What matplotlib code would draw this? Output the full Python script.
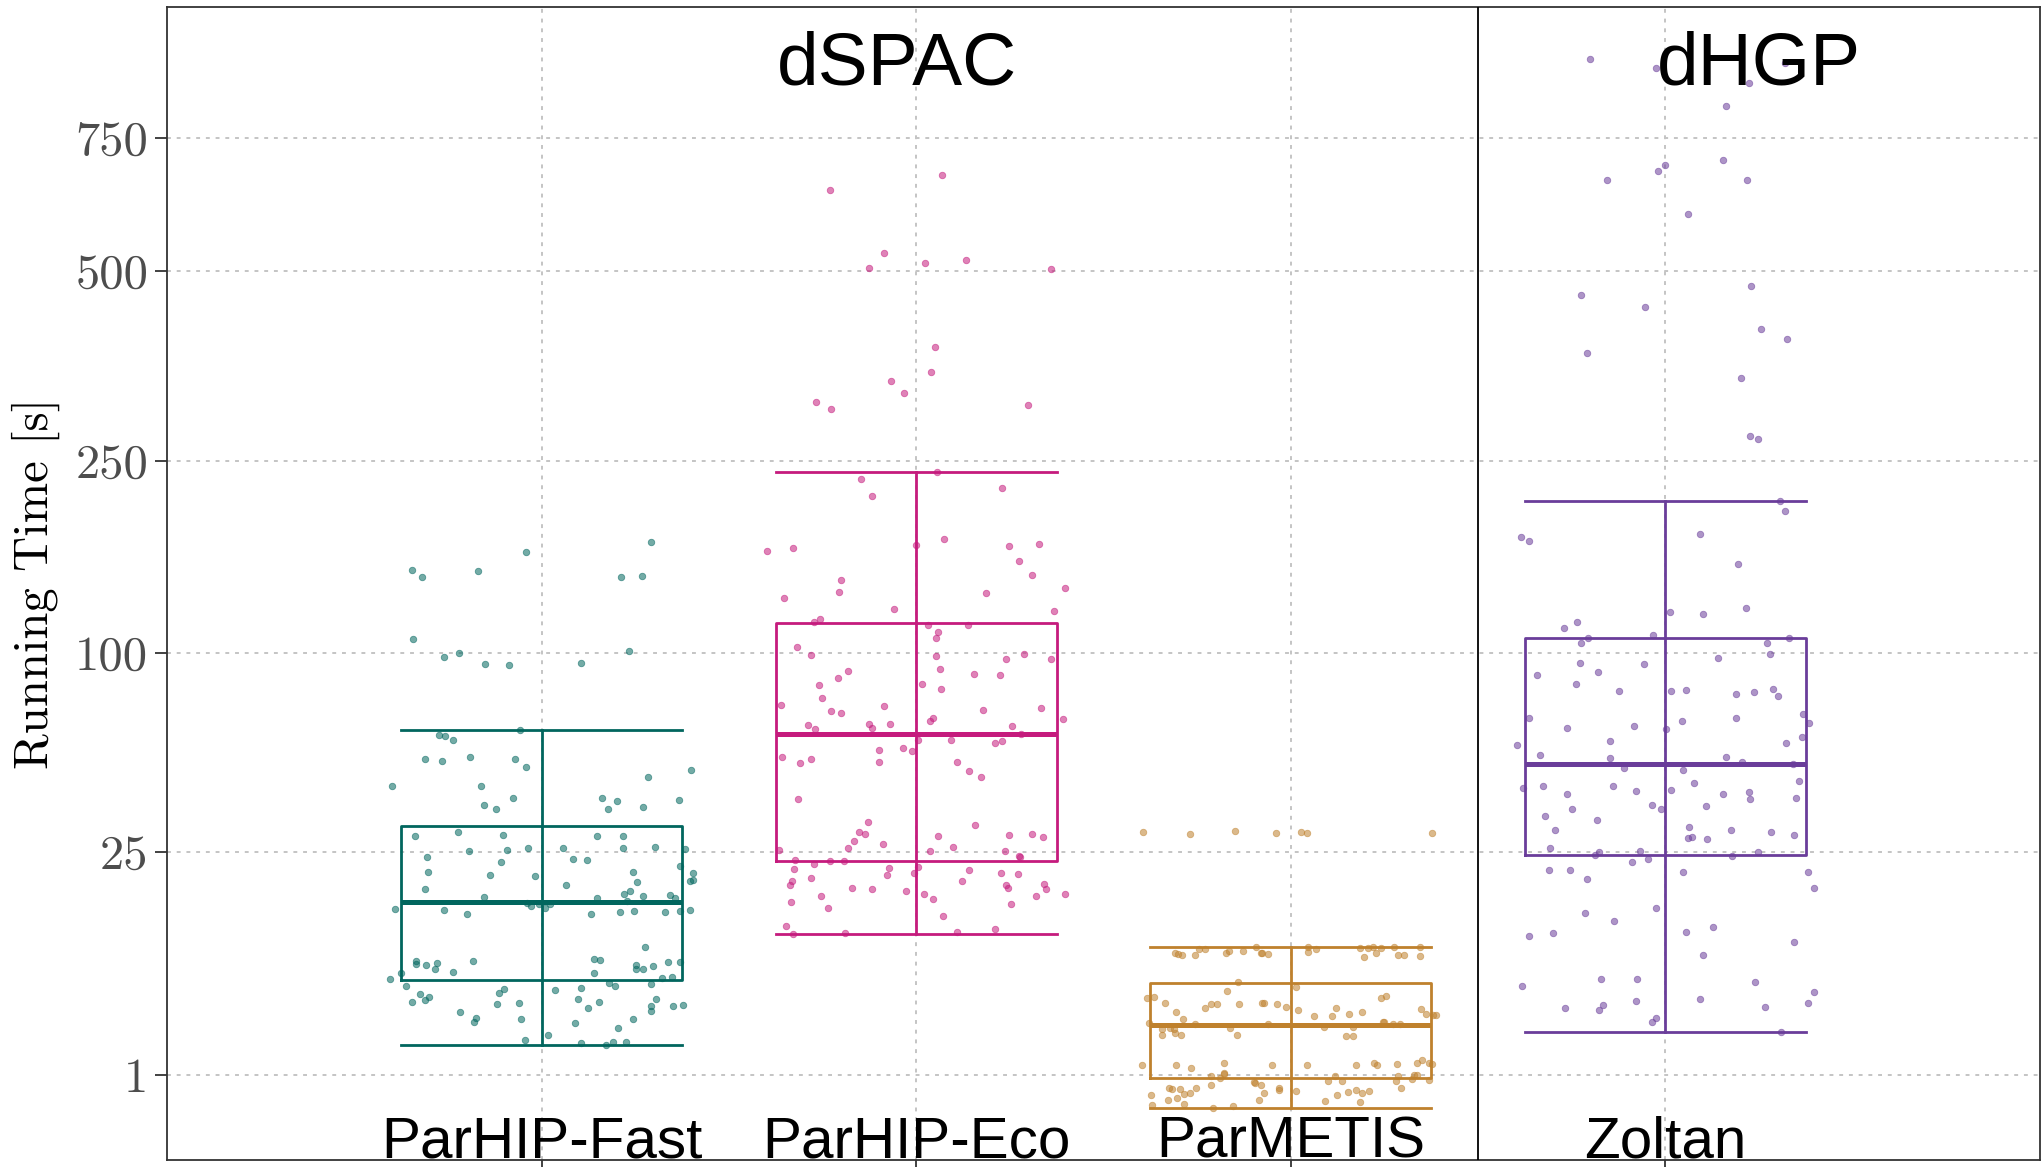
import numpy as np
import matplotlib

matplotlib.use("Agg")
import matplotlib.pyplot as plt
from matplotlib import cbook
from matplotlib.transforms import blended_transform_factory

# algorithms, their x position and colour
ALGOS = ["ParHIP-Fast", "ParHIP-Eco", "ParMETIS", "Zoltan"]
POSITIONS = [1, 2, 3, 4]
COLORS = ["#01665e", "#c51b7d", "#bf812d", "#6a3d9a"]
GROUPS = [("dSPAC", 1.95), ("dHGP", 4.25)]

Y_TICKS = [1, 25, 100, 250, 500, 750]

# running times [s] per instance, with the horizontal jitter of each point
fast_time = [
    153.6, 148.9, 153.1, 167.3, 175.6, 148.9, 149.4, 107.9, 97.7, 100.0, 94.2, 93.3, 94.6, 101.1,
    63.1, 60.7, 60.5, 58.9, 51.6, 51.2, 52.4, 51.6, 48.9, 42.7, 42.6, 37.0, 35.7, 38.9, 47.9, 45.4,
    38.9, 35.9, 38.1, 36.3, 38.4,
    28.6, 29.8, 29.0, 23.9, 25.3, 25.4, 26.0, 22.8, 20.9, 20.3, 20.0, 17.7, 16.3, 25.8, 23.5, 23.2,
    28.7, 28.6, 25.9, 26.2, 25.6, 22.1, 20.6, 20.8, 18.9, 18.4, 19.1, 19.3, 16.9, 17.3, 16.2, 16.4,
    16.6, 16.2, 15.7,
    14.4, 14.3, 13.6, 15.4, 14.9, 15.1, 14.5, 15.1, 13.6, 14.0, 14.1, 13.9, 14.1, 14.2,
    7.80, 7.46, 7.39, 7.63, 7.03, 6.75, 7.76, 6.62, 9.38, 8.05, 7.91, 6.66, 7.39, 7.03, 7.04, 7.27,
    7.69, 7.71, 6.32, 6.18,
    6.12, 5.50, 4.94, 4.33, 4.45, 4.72, 3.65, 3.12, 3.33, 4.97, 5.30, 4.22, 4.24, 3.26, 2.19, 2.43,
    5.18, 5.33, 4.57, 3.91, 4.36, 5.74, 5.53, 3.05, 2.10, 1.99, 2.13, 2.11, 2.76, 3.26, 5.66, 4.57,
    4.08, 3.72, 4.07, 4.15,
]
fast_jitter = [
    -0.347, -0.319, -0.171, -0.042, 0.292, 0.211, 0.269, -0.342, -0.260, -0.220, -0.150, -0.087, 0.106, 0.233,
    -0.058, -0.273, -0.257, -0.236, -0.312, -0.267, -0.192, -0.071, -0.042, -0.400, -0.161, -0.154, -0.123,
    -0.076, 0.398, 0.284, 0.162, 0.178, 0.202, 0.271, 0.368,
    -0.338, -0.224, -0.102, -0.306, -0.194, -0.092, -0.037, -0.109, -0.304, -0.138, -0.017, -0.310, -0.153,
    0.056, 0.083, 0.120, 0.149, 0.218, 0.216, 0.303, 0.384, 0.370, 0.404, 0.245, 0.256, 0.065, 0.397, 0.403,
    0.221, 0.236, 0.149, 0.272, 0.342, 0.357, 0.228,
    -0.392, -0.261, -0.199, -0.040, -0.029, -0.008, 0.009, 0.022, 0.131, 0.210, 0.246, 0.330, 0.369, 0.396,
    -0.334, -0.336, -0.309, -0.278, -0.284, -0.237, -0.184, -0.375, 0.275, 0.139, 0.157, 0.139, 0.252, 0.252,
    0.271, 0.298, 0.337, 0.370, 0.347, 0.322,
    -0.404, -0.361, -0.324, -0.345, -0.312, -0.301, -0.217, -0.181, -0.175, -0.113, -0.101, -0.119, -0.060,
    -0.055, -0.045, 0.018, 0.035, 0.106, 0.098, 0.124, 0.153, 0.181, 0.197, 0.090, 0.106, 0.172, 0.190,
    0.224, 0.203, 0.243, 0.291, 0.306, 0.292, 0.291, 0.350, 0.377,
]

eco_time = [
    643.4, 673.4, 529.9, 504.9, 512.6, 518.2, 503.2, 385.5, 352.8, 340.8, 326.3, 315.0, 306.6, 312.2,
    238.6, 231.4, 215.5, 223.4, 178.2,
    168.0, 170.7, 172.8, 172.5, 174.1, 160.5, 150.3, 141.0, 137.3, 125.2, 133.7, 146.2, 137.7, 126.8,
    118.4, 120.1, 116.4, 116.4,
    103.6, 98.9, 90.5, 86.5, 83.3, 76.8, 73.5, 71.0, 70.1, 73.1, 65.0, 63.4, 65.5, 63.9, 65.6, 112.1,
    108.4, 98.3, 91.3, 83.7, 81.2, 67.9, 66.5, 88.9, 96.6, 99.3, 96.6, 88.4, 71.3, 72.5, 67.4, 64.4, 61.4,
    52.5, 50.4, 51.9, 55.0, 55.8, 54.8, 50.8, 38.8, 32.3, 29.6, 29.3, 27.5, 26.0, 26.8, 25.4, 58.8,
    58.9, 57.6, 58.4, 50.8, 47.7, 45.7, 31.5, 28.7, 26.1, 25.3, 28.9, 29.3, 28.4, 25.2, 24.1, 23.9,
    23.2, 22.4, 23.1, 23.1, 21.4, 21.6, 20.3, 20.7, 21.8, 19.2, 18.4, 19.6, 17.8, 17.7, 17.4, 16.5,
    15.5, 14.6, 11.9, 10.9, 11.0, 16.9, 16.0, 13.3, 11.1, 11.5, 21.3, 19.1, 20.6, 20.4, 18.4, 17.8,
    15.2, 16.5, 18.5, 17.6, 16.9,
]
eco_jitter = [
    -0.230, 0.069, -0.087, -0.126, 0.024, 0.133, 0.361, 0.050, 0.039, -0.067, -0.033, -0.268, -0.228, 0.298,
    0.055, -0.148, -0.118, 0.229, 0.073,
    -0.398, -0.329, -0.001, 0.247, 0.329, 0.275, 0.310, 0.396, 0.187, 0.367, -0.353, -0.202, -0.206, -0.060,
    -0.274, -0.256, 0.031, 0.137,
    -0.317, -0.280, -0.182, -0.208, -0.260, -0.252, -0.361, -0.227, -0.202, -0.085, -0.289, -0.270, -0.127,
    -0.117, -0.070, 0.057, 0.052, 0.052, 0.064, 0.015, 0.065, 0.046, 0.038, 0.153, 0.239, 0.289, 0.359,
    0.225, 0.178, 0.333, 0.392, 0.256, 0.280,
    -0.358, -0.309, -0.282, -0.099, -0.036, -0.010, -0.099, -0.315, -0.129, -0.154, -0.137, -0.165, -0.181,
    -0.089, -0.367, 0.004, 0.093, 0.210, 0.230, 0.109, 0.141, 0.173, 0.157, 0.057, 0.098, 0.036, 0.247,
    0.310, 0.338, 0.238, 0.275, 0.278,
    -0.323, -0.273, -0.230, -0.192, -0.325, -0.073, -0.077, -0.006, 0.005, -0.332, -0.338, -0.280, -0.171,
    -0.117, -0.027, -0.254, -0.334, -0.236, -0.347, -0.330, -0.191, 0.022, 0.044, 0.071, 0.109, 0.211,
    0.140, 0.121, 0.226, 0.272, 0.240, 0.246, 0.254, 0.319, 0.340, 0.346, 0.397,
]

metis_time = [
    29.7, 29.3, 29.9, 29.4, 29.7, 29.4, 29.5,
    8.68, 8.57, 8.43, 8.43, 9.05, 9.09, 8.65, 8.91, 8.83, 9.35, 8.65, 8.65, 8.54, 9.35, 8.75, 9.05,
    9.17, 8.25, 9.21, 9.32, 8.68, 9.24, 9.28, 8.43, 8.40, 9.32, 8.36,
    4.59, 4.68, 4.24, 3.68, 3.28, 3.00, 3.95, 4.20, 4.20, 5.13, 5.88, 4.20, 4.24, 4.28, 4.20, 3.97,
    5.47, 3.83, 3.44, 3.44, 3.91, 3.57, 3.66, 4.59, 4.73, 3.11, 3.08, 2.99, 2.99, 3.87, 3.54, 3.52,
    3.52, 3.02, 2.99,
    2.74, 2.78, 2.74, 2.42, 2.54, 2.42, 2.76, 2.42, 2.83, 2.40, 2.40, 2.81, 1.29, 1.29, 1.18, 1.35,
    1.28, 1.28, 1.29, 1.36, 1.27, 1.30, 1.35, 1.43, 1.36, 1.31,
    0.983, 1.036, 0.933, 1.053, 0.707, 0.686, 0.686, 0.693, 0.578, 0.603, 0.561, 0.763, 0.482, 0.510,
    0.407, 0.422, 0.361, 0.394, 0.838, 0.815, 0.763, 0.597, 0.482, 0.693, 0.661, 0.647, 0.844, 0.973,
    0.860, 0.467, 0.561, 0.614, 0.661, 0.603, 0.647, 0.457, 0.860, 0.973, 0.693, 0.907, 0.991, 0.991,
    0.868,
]
metis_jitter = [
    -0.395, -0.268, -0.149, -0.039, 0.026, 0.042, 0.377,
    -0.309, -0.302, -0.291, -0.255, -0.244, -0.230, -0.172, -0.164, -0.128, -0.093, -0.080, -0.078, -0.060,
    0.046, 0.046, 0.067, 0.186, 0.196, 0.207, 0.220, 0.228, 0.242, 0.275, 0.287, 0.301, 0.344, 0.345,
    -0.383, -0.364, -0.337, -0.306, -0.287, -0.256, -0.229, -0.214, -0.198, -0.169, -0.141, -0.137, -0.077,
    -0.071, -0.036, -0.012, 0.013, 0.019, 0.062, 0.111, 0.120, 0.156, 0.191, 0.240, 0.254, 0.245, 0.249,
    0.273, 0.292, 0.347, 0.360, 0.380, 0.387, -0.379, -0.060,
    -0.344, -0.323, -0.312, -0.343, -0.310, -0.294, -0.161, -0.143, 0.089, 0.147, 0.167, 0.167, -0.398,
    -0.307, -0.267, -0.177, -0.049, 0.043, 0.173, 0.222, 0.230, 0.284, 0.336, 0.351, 0.369, 0.378,
    -0.214, -0.179, -0.190, -0.178, -0.324, -0.318, -0.297, -0.254, -0.285, -0.270, -0.372, -0.213, -0.327,
    -0.303, -0.370, -0.284, -0.208, -0.155, -0.097, -0.095, -0.080, -0.071, -0.085, -0.032, -0.031, 0.015,
    0.100, 0.119, 0.136, 0.091, 0.122, 0.154, 0.175, 0.191, 0.209, 0.184, 0.280, 0.285, 0.294, 0.324,
    0.330, 0.336, 0.369,
]

zoltan_time = [
    931.5, 908.7, 920.9, 872.6, 820.3, 703.8, 693.6, 681.5, 664.2, 664.2, 599.5, 476.0, 462.4, 444.0,
    411.3, 397.6, 378.3, 344.6, 276.7, 273.1, 211.2, 201.8,
    179.4, 176.3, 182.0, 158.1, 127.4, 124.9, 123.4, 114.3, 118.0, 108.3, 110.1, 105.6, 105.8, 108.7,
    94.6, 88.0, 89.8, 83.7, 94.1, 80.2, 68.0, 63.6, 64.7, 58.6, 56.9, 53.1, 52.3, 80.2, 80.7, 63.3,
    66.7, 97.5, 78.7, 79.8, 99.3, 81.0, 77.8, 67.9, 69.8, 65.7, 60.0, 57.8, 52.6, 50.7, 49.9,
    48.5, 42.1, 42.6, 40.2, 42.7, 41.2, 37.0, 35.9, 35.7, 33.9, 32.9, 30.3, 25.8, 41.5, 47.8, 43.5,
    36.5, 40.1, 40.8, 38.7, 38.9, 44.1, 30.9, 28.3, 28.5, 28.1, 30.3, 29.6, 28.9, 24.4, 25.0, 25.2,
    24.1, 25.1,
    21.2, 21.3, 19.5, 22.9, 23.4, 20.9, 20.9, 17.9, 13.8, 12.6, 14.6, 10.7, 11.0, 11.2, 11.8, 8.40,
    9.95, 6.10, 6.10, 5.55, 3.96, 3.80, 4.12, 4.41, 3.30, 3.08, 4.53, 5.86, 3.98, 4.24, 5.07, 2.58,
]
zoltan_jitter = [
    -0.201, -0.025, 0.318, 0.223, 0.162, 0.154, 0.000, -0.020, -0.157, 0.217, 0.060, 0.228, -0.225, -0.054,
    0.255, 0.324, -0.208, 0.201, 0.227, 0.246, 0.307, 0.319,
    -0.386, -0.365, 0.092, 0.193, 0.214, 0.012, 0.101, -0.271, -0.235, -0.206, -0.033, -0.225, 0.271, 0.329,
    -0.228, -0.343, -0.181, -0.238, -0.057, -0.124, -0.365, -0.262, -0.083, -0.149, -0.395, -0.334, -0.148,
    0.016, 0.054, 0.002, 0.044, 0.141, 0.188, 0.236, 0.279, 0.288, 0.301, 0.189, 0.368, 0.384, 0.365,
    0.321, 0.161, 0.204, 0.340,
    -0.110, -0.381, -0.327, -0.262, -0.140, -0.078, -0.036, -0.013, -0.248, -0.322, -0.183, -0.294, -0.307,
    0.016, 0.048, 0.077, 0.109, 0.155, 0.222, 0.226, 0.349, 0.356, 0.064, 0.059, 0.070, 0.110, 0.176,
    0.282, 0.343, -0.189, -0.176, -0.069, 0.179, 0.248,
    -0.310, -0.254, -0.210, -0.089, -0.047, 0.048, 0.381, 0.397, -0.214, -0.137, -0.024, -0.363, -0.301,
    0.055, 0.128, 0.101, 0.343, -0.173, -0.077, -0.383, -0.269, -0.178, -0.167, -0.078, -0.026, -0.035,
    0.093, 0.239, 0.267, 0.381, 0.398, 0.309,
]

TIMES = [fast_time, eco_time, metis_time, zoltan_time]
JITTERS = [fast_jitter, eco_jitter, metis_jitter, zoltan_jitter]

SERIF = "cmr10"
SANS = ["Liberation Sans", "DejaVu Sans"]

fig = plt.figure(figsize=(20.43, 11.67), dpi=100)
ax = fig.add_axes([167 / 2043, 7 / 1167, 1873 / 2043, 1153 / 1167])

# cube-root y axis
ax.set_yscale("function", functions=(np.cbrt, lambda v: np.power(v, 3)))
ax.set_ylim(0.019, 1066)
ax.set_xlim(0, 5)

ax.set_axisbelow(True)
ax.grid(True, color="#c4c4c4", linestyle=(0, (2, 3)), linewidth=1.4)

for pos, times, jitter, color in zip(POSITIONS, TIMES, JITTERS, COLORS):
    stats = cbook.boxplot_stats(np.array(times), whis=1.5)
    ax.bxp(
        stats, positions=[pos], widths=0.75, capwidths=0.75, showfliers=False,
        boxprops=dict(color=color, linewidth=2.0),
        medianprops=dict(color=color, linewidth=3.6),
        whiskerprops=dict(color=color, linewidth=2.0),
        capprops=dict(color=color, linewidth=2.0),
        zorder=2,
    )
    ax.vlines(pos, stats[0]["q1"], stats[0]["q3"], color=color, linewidth=2.0, zorder=2)
    ax.scatter(
        pos + np.array(jitter), times, s=22, color=color, alpha=0.55,
        edgecolors=color, linewidths=0.6, zorder=3,
    )

ax.axvline(3.5, color="black", linewidth=1.3, zorder=4)

ax.set_yticks(Y_TICKS)
ax.set_yticklabels([str(t) for t in Y_TICKS], fontfamily=SERIF, fontsize=35, color="#4d4d4d")
ax.minorticks_off()
ax.set_xticks(POSITIONS)
ax.set_xticklabels([""] * len(POSITIONS))
ax.tick_params(axis="y", length=8.5, width=1.3, color="#333333", pad=5)
ax.tick_params(axis="x", length=5, width=1.3, color="#333333")
for spine in ax.spines.values():
    spine.set_color("#333333")
    spine.set_linewidth(1.3)

ax.set_ylabel("Running Time [s]", fontfamily=SERIF, fontsize=35)
ax.yaxis.set_label_coords(-0.057, 0.5)

trans = blended_transform_factory(ax.transData, ax.transAxes)
for name, pos in zip(ALGOS, POSITIONS):
    ax.text(pos, 0.0026, name, transform=trans, ha="center", va="baseline",
            fontsize=42, family=SANS, zorder=5)
for name, xpos in GROUPS:
    ax.text(xpos, 0.9332, name, transform=trans, ha="center", va="baseline",
            fontsize=54, family=SANS, zorder=5)

fig.savefig("out.png", dpi=100)
